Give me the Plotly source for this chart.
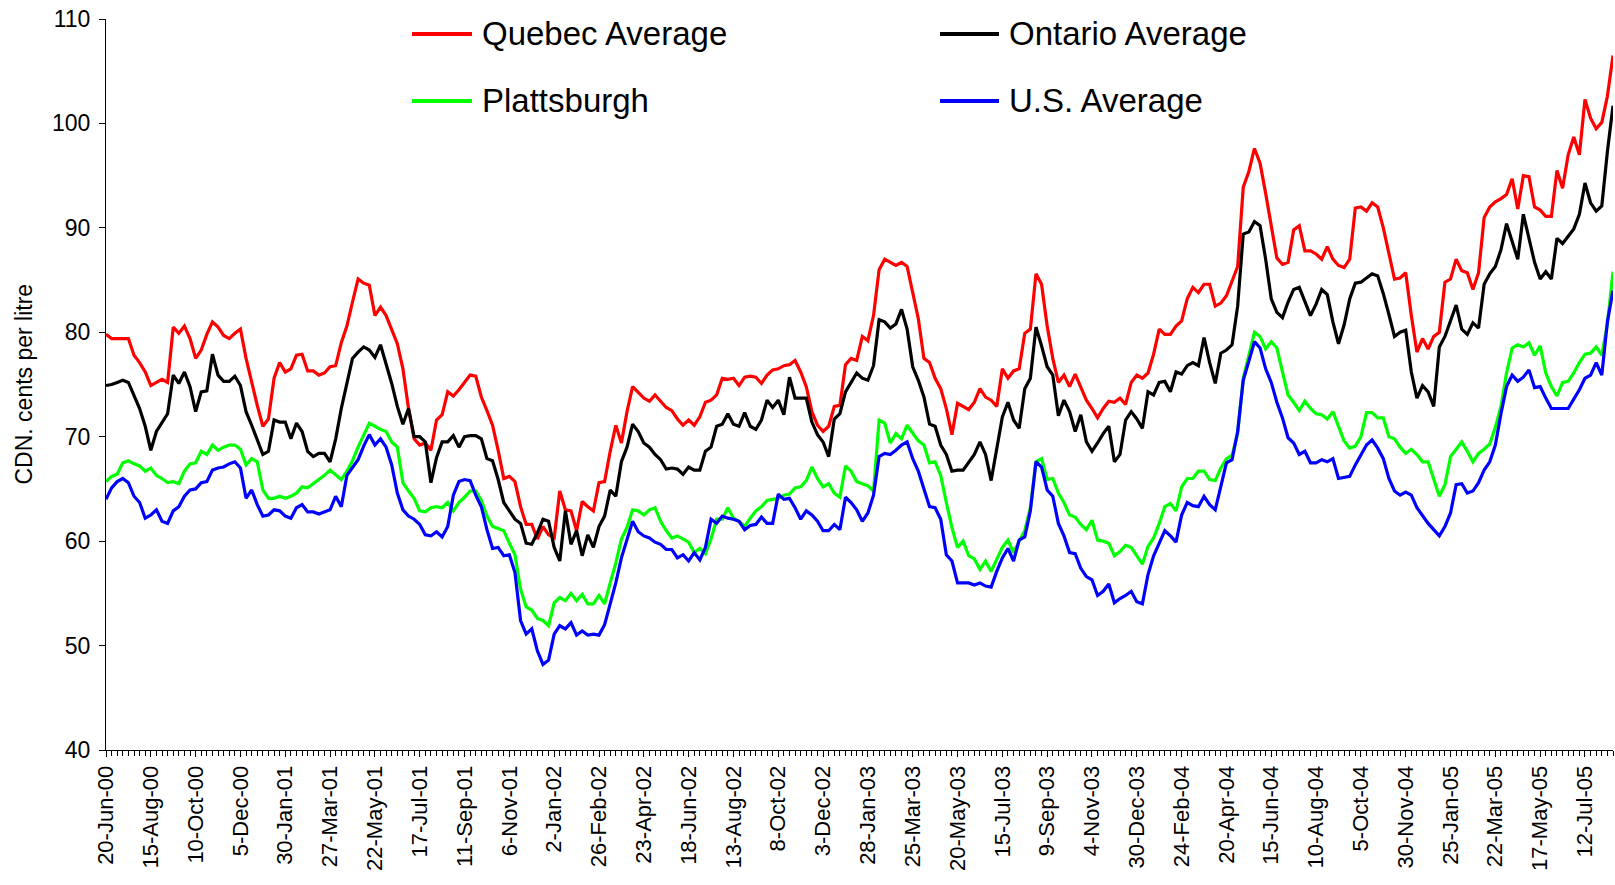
import plotly.graph_objects as go

# ---- Data (weekly observations, CDN cents per litre) ----
tick_labels = ["20-Jun-00", "15-Aug-00", "10-Oct-00", "5-Dec-00", "30-Jan-01", "27-Mar-01",
               "22-May-01", "17-Jul-01", "11-Sep-01", "6-Nov-01", "2-Jan-02", "26-Feb-02",
               "23-Apr-02", "18-Jun-02", "13-Aug-02", "8-Oct-02", "3-Dec-02", "28-Jan-03",
               "25-Mar-03", "20-May-03", "15-Jul-03", "9-Sep-03", "4-Nov-03", "30-Dec-03",
               "24-Feb-04", "20-Apr-04", "15-Jun-04", "10-Aug-04", "5-Oct-04", "30-Nov-04",
               "25-Jan-05", "22-Mar-05", "17-May-05", "12-Jul-05"]
label_step = 8

quebec = [79.8, 79.4, 79.4, 79.4, 79.4, 77.8, 77.1, 76.2, 74.9, 75.2, 75.5, 75.2, 80.5, 79.9, 80.6, 79.4, 77.5, 78.3, 79.8, 81.0,
          80.5, 79.7, 79.4, 79.9, 80.3, 77.5, 75.2, 73.0, 71.0, 71.7, 75.6, 77.1, 76.2, 76.5, 77.8, 77.9, 76.3, 76.3, 75.9, 76.1,
          76.7, 76.8, 79.0, 80.6, 82.9, 85.1, 84.7, 84.5, 81.6, 82.4, 81.6, 80.3, 78.9, 76.5, 72.7, 69.8, 69.2, 69.4, 68.7, 71.6,
          72.1, 74.3, 73.9, 74.5, 75.2, 75.9, 75.8, 73.8, 72.5, 71.1, 68.7, 66.0, 66.2, 65.7, 63.3, 61.6, 61.6, 60.2, 61.4, 60.6,
          60.3, 64.8, 63.0, 62.9, 61.0, 63.8, 63.3, 62.9, 65.6, 65.7, 68.6, 71.1, 69.4, 72.4, 74.8, 74.3, 73.7, 73.4, 74.0, 73.4,
          72.8, 72.5, 71.7, 71.1, 71.6, 71.1, 71.9, 73.3, 73.5, 74.0, 75.6, 75.5, 75.6, 74.9, 75.7, 75.8, 75.7, 75.1, 75.9, 76.4,
          76.5, 76.8, 76.9, 77.3, 76.2, 74.8, 72.4, 71.1, 70.5, 71.0, 72.9, 73.0, 76.9, 77.5, 77.3, 79.6, 79.2, 81.6, 86.0, 87.0,
          86.7, 86.4, 86.7, 86.3, 83.8, 81.3, 77.5, 77.1, 75.6, 74.6, 72.7, 70.2, 73.2, 72.9, 72.6, 73.3, 74.6, 73.8, 73.5, 72.9,
          76.5, 75.6, 76.3, 76.5, 79.9, 80.3, 85.6, 84.6, 80.6, 77.5, 75.2, 75.9, 74.8, 76.0, 74.8, 73.5, 72.7, 71.8, 72.7, 73.4,
          73.3, 73.7, 73.1, 75.2, 75.9, 75.6, 76.1, 77.9, 80.3, 79.8, 79.8, 80.6, 81.1, 83.2, 84.3, 83.8, 84.6, 84.6, 82.5, 82.8,
          83.5, 85.0, 86.3, 93.9, 95.4, 97.6, 96.2, 93.3, 90.0, 87.1, 86.5, 86.7, 89.8, 90.2, 87.8, 87.8, 87.5, 87.0, 88.2, 87.0,
          86.4, 86.2, 87.0, 91.9, 92.0, 91.6, 92.4, 92.0, 90.0, 87.5, 85.1, 85.2, 85.7, 81.6, 78.1, 79.4, 78.4, 79.6, 80.0, 84.8,
          85.1, 87.0, 85.9, 85.7, 84.1, 85.7, 91.0, 92.0, 92.5, 92.8, 93.2, 94.7, 91.8, 95.0, 94.9, 92.0, 91.7, 91.1, 91.1, 95.5,
          93.8, 97.0, 98.7, 97.0, 102.3, 100.5, 99.5, 100.1, 102.6, 106.5]

ontario = [74.9, 75.0, 75.2, 75.4, 75.2, 74.0, 72.7, 71.0, 68.7, 70.5, 71.3, 72.2, 75.9, 75.1, 76.2, 74.8, 72.4, 74.3, 74.4, 77.9,
           75.9, 75.3, 75.3, 75.8, 74.9, 72.4, 71.1, 69.7, 68.3, 68.6, 71.6, 71.4, 71.4, 69.8, 71.3, 70.5, 68.6, 68.1, 68.4, 68.4,
           67.6, 69.8, 72.7, 75.1, 77.5, 78.1, 78.6, 78.3, 77.6, 78.8, 77.0, 75.1, 72.9, 71.2, 72.7, 70.0, 70.0, 69.5, 65.6, 68.0,
           69.5, 69.5, 70.1, 69.0, 70.0, 70.1, 70.1, 69.8, 67.9, 67.7, 65.9, 63.7, 62.9, 62.1, 61.7, 59.8, 59.7, 60.8, 62.1, 61.9,
           59.4, 58.1, 62.9, 59.7, 61.0, 58.6, 60.6, 59.4, 61.4, 62.4, 64.9, 64.3, 67.6, 69.0, 71.2, 70.5, 69.4, 69.0, 68.3, 67.8,
           66.9, 67.0, 66.9, 66.4, 67.1, 66.8, 66.8, 68.6, 69.0, 71.0, 71.2, 72.2, 71.2, 71.0, 72.3, 71.0, 70.7, 71.6, 73.5, 72.8,
           73.5, 72.1, 75.7, 73.7, 73.7, 73.7, 71.4, 70.2, 69.5, 68.1, 71.7, 72.2, 74.3, 75.2, 76.1, 75.6, 75.4, 76.8, 81.2, 81.0,
           80.4, 80.8, 82.2, 80.3, 76.7, 75.4, 73.8, 71.2, 71.0, 69.2, 68.3, 66.7, 66.8, 66.8, 67.6, 68.3, 69.5, 68.3, 65.8, 69.0,
           71.9, 73.3, 71.6, 70.8, 74.6, 75.6, 80.5, 78.7, 76.7, 75.9, 72.0, 73.5, 72.4, 70.5, 72.1, 69.5, 68.6, 69.4, 70.3, 71.0,
           67.6, 68.3, 71.6, 72.4, 71.7, 70.8, 74.3, 74.0, 75.2, 75.3, 74.3, 76.2, 76.0, 76.8, 77.1, 76.8, 79.5, 77.1, 75.1, 78.0,
           78.3, 78.8, 82.5, 89.4, 89.6, 90.6, 90.2, 87.0, 83.2, 81.9, 81.4, 82.9, 84.1, 84.3, 82.9, 81.6, 82.7, 84.1, 83.6, 81.0,
           78.9, 80.7, 83.2, 84.7, 84.8, 85.2, 85.6, 85.4, 83.7, 81.7, 79.6, 80.0, 80.2, 76.2, 73.7, 74.9, 74.3, 72.9, 78.6, 79.6,
           81.1, 82.6, 80.3, 79.8, 80.9, 80.4, 84.6, 85.6, 86.3, 87.9, 90.4, 88.8, 87.0, 91.3, 89.0, 86.7, 85.1, 85.8, 85.1, 89.0,
           88.5, 89.2, 89.9, 91.3, 94.3, 92.4, 91.6, 92.1, 97.3, 101.7]

plattsburgh = [65.7, 66.2, 66.4, 67.5, 67.7, 67.4, 67.2, 66.7, 67.0, 66.3, 66.0, 65.6, 65.7, 65.5, 66.7, 67.4, 67.5, 68.6, 68.3, 69.2,
               68.7, 69.0, 69.2, 69.2, 68.8, 67.3, 67.9, 67.6, 64.9, 64.1, 64.1, 64.3, 64.1, 64.3, 64.6, 65.2, 65.1, 65.5, 65.9, 66.3,
               66.8, 66.3, 65.9, 66.7, 67.7, 69.0, 70.2, 71.3, 71.0, 70.7, 70.5, 69.5, 69.0, 65.6, 64.8, 64.1, 62.9, 62.8, 63.2, 63.3,
               63.2, 63.7, 62.9, 63.7, 64.2, 64.8, 64.8, 63.9, 62.4, 61.4, 61.2, 61.0, 59.8, 58.7, 55.4, 53.7, 53.4, 52.6, 52.4, 51.9,
               54.1, 54.6, 54.3, 55.0, 54.3, 54.9, 54.0, 54.0, 54.8, 54.0, 56.0, 57.9, 60.2, 61.3, 63.0, 62.9, 62.5, 63.0, 63.2, 61.9,
               61.0, 60.3, 60.5, 60.2, 59.9, 58.9, 59.3, 58.8, 60.2, 62.1, 62.1, 63.2, 62.2, 61.9, 61.4, 62.2, 62.9, 63.3, 63.9, 64.0,
               64.1, 64.4, 64.5, 65.1, 65.2, 65.8, 67.1, 66.0, 65.2, 65.5, 64.6, 64.2, 67.2, 66.7, 65.7, 65.5, 65.3, 64.8, 71.6, 71.3,
               69.4, 70.3, 69.8, 71.1, 70.3, 69.6, 69.2, 67.5, 67.6, 66.3, 63.7, 61.3, 59.4, 60.0, 58.6, 58.3, 57.3, 58.1, 57.1, 58.2,
               59.4, 60.1, 58.9, 60.0, 61.0, 63.2, 67.6, 67.9, 65.9, 66.0, 64.6, 63.7, 62.5, 62.3, 61.6, 61.1, 62.0, 60.1, 60.0, 59.8,
               58.6, 59.0, 59.6, 59.4, 58.6, 57.8, 59.5, 60.3, 61.7, 63.3, 63.6, 62.9, 65.2, 66.0, 66.0, 66.7, 66.7, 65.9, 65.8, 67.0,
               67.9, 68.2, 70.3, 75.6, 77.8, 80.0, 79.6, 78.4, 79.1, 78.5, 76.2, 74.0, 73.3, 72.5, 73.4, 72.7, 72.2, 72.1, 71.7, 72.4,
               71.0, 69.6, 68.9, 69.1, 70.0, 72.3, 72.3, 71.8, 71.8, 70.0, 69.8, 69.0, 68.4, 68.8, 68.3, 67.6, 67.6, 66.0, 64.3, 65.4,
               68.1, 68.8, 69.5, 68.6, 67.6, 68.4, 68.8, 69.3, 70.9, 72.9, 76.1, 78.5, 78.8, 78.6, 79.0, 77.8, 78.7, 76.1, 74.8, 73.9,
               75.2, 75.3, 76.1, 77.1, 77.9, 78.0, 78.6, 77.8, 80.8, 85.8]

us_average = [64.0, 65.1, 65.7, 66.0, 65.6, 64.3, 63.7, 62.2, 62.5, 63.0, 61.9, 61.7, 62.9, 63.3, 64.3, 64.9, 65.0, 65.6, 65.7, 66.8,
              67.0, 67.1, 67.4, 67.6, 67.0, 64.1, 64.9, 63.5, 62.4, 62.5, 63.0, 62.9, 62.4, 62.2, 63.2, 63.5, 62.8, 62.8, 62.6, 62.8,
              63.0, 64.3, 63.3, 66.3, 67.0, 67.8, 69.1, 70.2, 69.2, 69.8, 69.0, 67.3, 64.6, 63.0, 62.4, 62.1, 61.6, 60.6, 60.5, 60.9,
              60.4, 61.4, 64.4, 65.7, 65.9, 65.8, 64.4, 63.3, 61.1, 59.3, 59.4, 58.6, 58.7, 57.0, 52.4, 51.1, 51.6, 49.5, 48.2, 48.6,
              51.1, 51.9, 51.6, 52.2, 51.0, 51.4, 51.0, 51.1, 51.0, 52.0, 54.0, 56.0, 58.4, 60.2, 61.9, 60.9, 60.5, 60.3, 59.9, 59.7,
              59.2, 59.2, 58.4, 58.7, 58.1, 58.9, 58.2, 59.4, 62.1, 61.7, 62.4, 62.2, 62.1, 61.9, 61.1, 61.5, 61.6, 62.3, 61.7, 61.7,
              64.5, 64.0, 64.1, 63.2, 62.1, 62.9, 62.5, 61.9, 61.0, 61.0, 61.6, 61.1, 64.2, 63.7, 63.0, 61.9, 62.7, 64.4, 68.1, 68.4,
              68.3, 68.7, 69.2, 69.5, 67.9, 66.7, 65.1, 63.3, 63.2, 62.1, 58.7, 58.1, 56.0, 56.0, 56.0, 55.8, 56.0, 55.7, 55.6, 57.1,
              58.4, 59.3, 58.1, 60.1, 60.4, 62.9, 67.6, 67.1, 64.9, 64.3, 61.7, 60.5, 58.9, 58.8, 57.4, 56.6, 56.3, 54.8, 55.2, 55.9,
              54.1, 54.5, 54.8, 55.2, 54.2, 54.0, 56.8, 58.6, 59.8, 61.0, 60.5, 59.9, 62.5, 63.7, 63.4, 63.3, 64.3, 63.5, 63.0, 65.4,
              67.5, 67.8, 70.5, 75.4, 77.3, 79.1, 78.5, 76.5, 75.2, 73.3, 71.8, 69.9, 69.4, 68.3, 68.6, 67.5, 67.5, 67.8, 67.6, 67.9,
              66.0, 66.1, 66.2, 67.3, 68.2, 69.2, 69.7, 68.9, 67.9, 66.0, 64.8, 64.4, 64.7, 64.4, 63.2, 62.4, 61.7, 61.1, 60.5, 61.4,
              62.7, 65.4, 65.5, 64.6, 64.8, 65.6, 66.8, 67.6, 69.2, 72.2, 74.8, 75.9, 75.3, 75.7, 76.4, 74.7, 74.8, 73.7, 72.7, 72.7,
              72.7, 72.7, 73.6, 74.5, 75.6, 75.9, 77.1, 75.9, 81.0, 84.0]

series_names = ["Quebec Average", "Ontario Average", "Plattsburgh", "U.S. Average"]
series_values = [quebec, ontario, plattsburgh, us_average]
series_colors = ["#FF0000", "#000000", "#00FF00", "#0000FF"]

# ---- Layout geometry (pixels) ----
W, H = 1615, 885
ML, MR, MT, MB = 106, 2, 19, 135
PW, PH = W - ML - MR, H - MT - MB
FONT = "Arial, Liberation Sans, sans-serif"

def px_to_paper_x(px):
    return (px - ML) / PW

def px_to_paper_y(py):
    return (H - MB - py) / PH

n = len(quebec)
x_idx = list(range(n))
tick_pos = [i * label_step for i in range(len(tick_labels))]

fig = go.Figure()
for name, vals, col in zip(series_names, series_values, series_colors):
    fig.add_trace(go.Scatter(x=x_idx, y=vals, mode="lines", name=name,
                             line=dict(color=col, width=3.2), showlegend=False,
                             hovertemplate=name + ": %{y:.1f}<extra></extra>"))

# ---- Legend drawn as two columns (line sample + text) ----
legend_cells = [  # (line x0, line x1, text x, row y)
    (412, 472, 480, 34),
    (940, 999, 1007, 34),
    (412, 472, 480, 101),
    (940, 999, 1007, 101),
]
shapes = []
annotations = []
for (lx0, lx1, tx, ry), name, col in zip(legend_cells, series_names, series_colors):
    shapes.append(dict(type="line", xref="paper", yref="paper",
                       x0=px_to_paper_x(lx0), x1=px_to_paper_x(lx1),
                       y0=px_to_paper_y(ry), y1=px_to_paper_y(ry),
                       line=dict(color=col, width=4)))
    annotations.append(dict(text=name, xref="paper", yref="paper",
                            x=px_to_paper_x(tx), y=px_to_paper_y(ry),
                            xanchor="left", yanchor="middle", showarrow=False,
                            font=dict(family=FONT, size=33, color="black")))

# Y-axis title
annotations.append(dict(text="CDN. cents per litre", xref="paper", yref="paper",
                        x=px_to_paper_x(23), y=0.5, xanchor="center", yanchor="middle",
                        textangle=-90, showarrow=False,
                        font=dict(family=FONT, size=23, color="black")))

fig.update_layout(
    width=W, height=H,
    margin=dict(l=ML, r=MR, t=MT, b=MB),
    paper_bgcolor="white", plot_bgcolor="white",
    font=dict(family=FONT, color="black"),
    shapes=shapes, annotations=annotations,
    showlegend=False,
    xaxis=dict(range=[0, n - 1], tickmode="array", tickvals=tick_pos, ticktext=tick_labels,
               tickangle=-90, tickfont=dict(family=FONT, size=22, color="black"),
               showgrid=False, zeroline=False, showline=True, linecolor="black", linewidth=1,
               ticks="outside", ticklen=6, tickcolor="black",
               minor=dict(dtick=1, ticks="outside", ticklen=5, tickcolor="black", showgrid=False)),
    yaxis=dict(range=[40, 110], dtick=10, tick0=40,
               tickfont=dict(family=FONT, size=23, color="black"),
               showgrid=False, zeroline=False, showline=True, linecolor="black", linewidth=1,
               ticks="outside", ticklen=6, tickcolor="black", ticklabelstandoff=4),
)

fig.write_html("out.html", post_script="document.body.style.margin='0px';",
               config={"displayModeBar": False})
